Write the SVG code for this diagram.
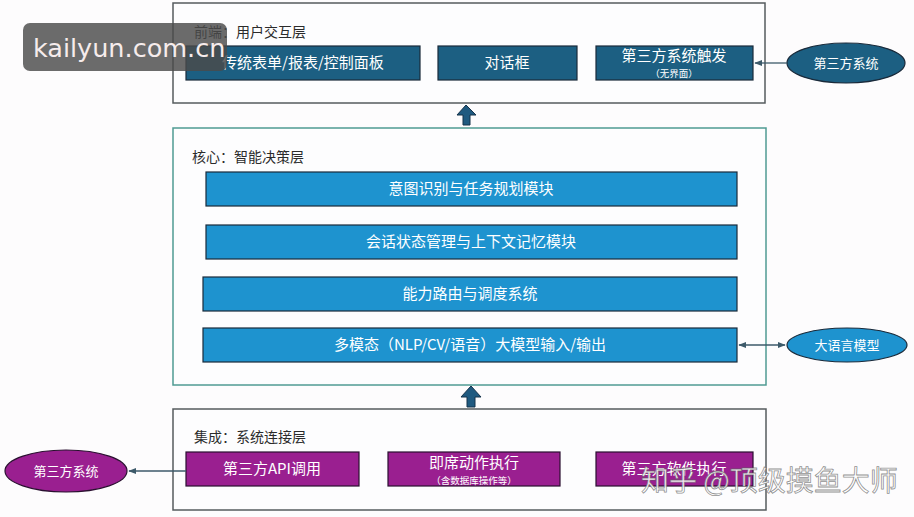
<svg xmlns="http://www.w3.org/2000/svg" width="914" height="517" viewBox="0 0 914 517">
<style>
text{font-family:"Noto Sans CJK SC","Liberation Sans",sans-serif}
.layer{fill:#fdfdfe;stroke-width:1.5}
.title{font-size:14px;fill:#2b2b2b}
.lbl{font-size:15px;fill:#ffffff;text-anchor:middle}
.sub{font-size:9.5px;fill:#ffffff;text-anchor:middle}
.dark{fill:#1c5f82;stroke:#1a2a3a;stroke-width:1.2}
.blue{fill:#1e93cf;stroke:#1a2a3a;stroke-width:1.2}
.purple{fill:#9a1f90;stroke:#2a1030;stroke-width:1.2}
.conn{stroke:#3d5a6a;stroke-width:1.3;fill:none}
.up{fill:#1f5a80;stroke:#15324a;stroke-width:1}
</style>
<defs>
<marker id="ah" viewBox="0 0 10 10" refX="9" refY="5" markerWidth="6" markerHeight="6" orient="auto-start-reverse">
<path d="M0,1 L10,5 L0,9 z" fill="#3d5a6a"/>
</marker>
</defs>
<rect width="914" height="517" fill="#fdfcfd"/>

<g id="layer-front">
<rect class="layer" x="173" y="3" width="592" height="100" stroke="#555b5e"/>
<text class="title" x="194" y="37">前端：用户交互层</text>
</g>
<g id="node-forms">
<rect class="dark" x="186" y="46" width="234" height="34"/>
<text class="lbl" x="303" y="68">传统表单/报表/控制面板</text>
</g>
<g id="node-dialog">
<rect class="dark" x="438" y="46" width="139" height="34"/>
<text class="lbl" x="507" y="68">对话框</text>
</g>
<g id="node-trigger">
<rect class="dark" x="596" y="46" width="157" height="34"/>
<text class="lbl" x="674" y="61">第三方系统触发</text>
<text class="sub" x="674" y="77">（无界面）</text>
</g>
<g id="node-ext-top">
<ellipse class="dark" cx="846" cy="63" rx="59" ry="20"/>
<text class="lbl" x="846" y="68" style="font-size:13px">第三方系统</text>
</g>

<g id="layer-core">
<rect class="layer" x="173" y="128" width="593" height="257" stroke="#4f9a93"/>
<text class="title" x="192" y="162">核心：智能决策层</text>
</g>
<g id="node-intent">
<rect class="blue" x="206" y="172" width="531" height="34"/>
<text class="lbl" x="471" y="194">意图识别与任务规划模块</text>
</g>
<g id="node-session">
<rect class="blue" x="206" y="225" width="531" height="34"/>
<text class="lbl" x="471" y="247">会话状态管理与上下文记忆模块</text>
</g>
<g id="node-routing">
<rect class="blue" x="203" y="277" width="534" height="34"/>
<text class="lbl" x="470" y="299">能力路由与调度系统</text>
</g>
<g id="node-multimodal">
<rect class="blue" x="203" y="328" width="534" height="34"/>
<text class="lbl" x="470" y="350">多模态（NLP/CV/语音）大模型输入/输出</text>
</g>
<g id="node-llm">
<ellipse class="blue" cx="847" cy="345" rx="60" ry="17"/>
<text class="lbl" x="847" y="350" style="font-size:13px">大语言模型</text>
</g>

<g id="layer-integration">
<rect class="layer" x="173" y="409" width="593" height="101" stroke="#555b5e"/>
<text class="title" x="194" y="442">集成：系统连接层</text>
</g>
<g id="node-api">
<rect class="purple" x="186" y="452" width="173" height="34"/>
<text class="lbl" x="272" y="474">第三方API调用</text>
</g>
<g id="node-adhoc">
<rect class="purple" x="388" y="452" width="172" height="34"/>
<text class="lbl" x="474" y="468">即席动作执行</text>
<text class="sub" x="474" y="484">（含数据库操作等）</text>
</g>
<g id="node-software">
<rect class="purple" x="596" y="452" width="157" height="34"/>
<text class="lbl" x="674" y="474">第三方软件执行</text>
</g>
<g id="node-ext-bottom">
<ellipse class="purple" cx="66" cy="471" rx="61" ry="21"/>
<text class="lbl" x="66" y="476" style="font-size:13px">第三方系统</text>
</g>

<g id="connectors">
<line class="conn" x1="787" y1="63" x2="755" y2="63" marker-end="url(#ah)"/>
<line class="conn" x1="739" y1="345" x2="785" y2="345" marker-start="url(#ah)" marker-end="url(#ah)"/>
<line class="conn" x1="186" y1="471" x2="129" y2="471" marker-end="url(#ah)"/>
<path class="up" d="M466,105 L476,115 L470,115 L470,125 L463,125 L463,115 L457,115 Z"/>
<path class="up" d="M471,386 L481,397 L475,397 L475,407 L467,407 L467,397 L461,397 Z"/>
</g>

<g id="watermarks">
<rect x="23" y="23" width="204" height="48" rx="7" fill="#4a4a4a" fill-opacity="0.82"/>
<text x="33" y="57" style="font-family:'DejaVu Sans','Liberation Sans',sans-serif;font-size:25.5px;fill:#f6ecec">kailyun.com.cn</text>
<text x="641" y="491" style="font-size:28px;fill:#ffffff;fill-opacity:0.88;stroke:#5f5f5f;stroke-width:0.8;stroke-opacity:0.7">知乎 @顶级摸鱼大师</text>
</g>
</svg>
